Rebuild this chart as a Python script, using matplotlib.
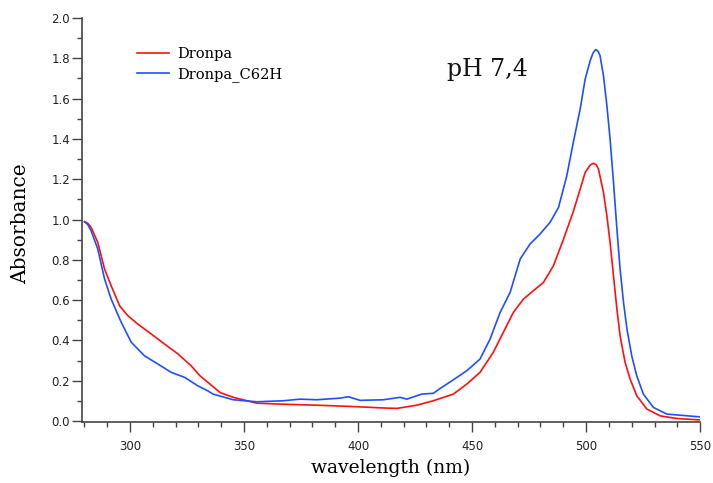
import numpy as np
from matplotlib import pyplot as plt
from matplotlib.ticker import MultipleLocator

# absorbance spectra
wl_dronpa = [280.1, 281.5, 283.0, 285.9, 288.9, 291.8, 295.5, 299.1, 303.5, 309.4, 315.2,
             321.1, 326.9, 330.7, 335.1, 339.5, 345.3, 355.6, 367.2, 381.9, 396.5,
             409.6, 417.0, 425.7, 433.0, 441.8, 447.7, 453.5, 459.3, 463.7, 468.1,
             472.5, 476.9, 481.3, 485.7, 490.1, 494.4, 497.4, 499.6, 501.8, 503.2,
             504.4, 505.4, 507.6, 509.1, 510.5, 512.0, 513.5, 514.9, 517.1, 519.3, 522.2,
             526.6, 532.5, 539.8, 550.0]
abs_dronpa = [0.989, 0.982, 0.961, 0.887, 0.754, 0.671, 0.572, 0.523, 0.481, 0.432, 0.382,
              0.333, 0.274, 0.225, 0.184, 0.142, 0.118, 0.089, 0.084, 0.079, 0.073,
              0.066, 0.063, 0.079, 0.101, 0.134, 0.184, 0.242, 0.341, 0.440, 0.539,
              0.605, 0.647, 0.688, 0.771, 0.903, 1.040, 1.151, 1.234, 1.270, 1.279,
              1.272, 1.251, 1.135, 1.019, 0.887, 0.721, 0.556, 0.423, 0.291, 0.208, 0.126,
              0.060, 0.026, 0.013, 0.006]

wl_c62h = [280.1, 281.5, 283.0, 285.9, 288.9, 291.8, 296.2, 300.6, 306.4, 312.3, 318.1,
           324.0, 329.8, 334.2, 336.5, 345.3, 355.6, 367.2, 374.6, 381.9, 392.1,
           395.8, 400.9, 411.1, 418.4, 421.4, 427.9, 433.0, 436.0, 441.8, 447.7,
           453.5, 457.9, 462.3, 466.7, 471.1, 475.4, 479.8, 484.2, 487.9, 491.5,
           494.4, 497.4, 499.6, 501.8, 503.0, 504.2, 505.2, 506.1, 507.6, 509.1, 510.5, 512.0,
           513.5, 514.9, 516.4, 517.9, 520.0, 522.2, 525.1, 529.5, 535.4, 550.0]
abs_c62h = [0.989, 0.975, 0.944, 0.854, 0.705, 0.605, 0.490, 0.391, 0.324, 0.283, 0.242,
            0.217, 0.175, 0.150, 0.134, 0.106, 0.096, 0.101, 0.109, 0.106, 0.114,
            0.121, 0.103, 0.106, 0.118, 0.109, 0.134, 0.138, 0.162, 0.205, 0.250,
            0.308, 0.407, 0.539, 0.639, 0.804, 0.878, 0.928, 0.986, 1.060, 1.215,
            1.383, 1.548, 1.697, 1.788, 1.825, 1.843, 1.835, 1.813, 1.714, 1.565, 1.400, 1.185,
            0.953, 0.754, 0.589, 0.457, 0.324, 0.225, 0.134, 0.068, 0.035, 0.021]

labels = ['Dronpa', 'Dronpa_C62H']

fig = plt.figure(figsize=(7.13, 4.83), dpi=100)
ax = fig.add_axes([0.115, 0.126, 0.867, 0.837])

ax.plot(wl_dronpa, abs_dronpa, color='#ff1010', lw=1.2, label=labels[0])
ax.plot(wl_c62h, abs_c62h, color='#1f50ff', lw=1.2, label=labels[1])

ax.set_xlim(279, 550)
ax.set_ylim(-0.005, 2.0)
ax.xaxis.set_major_locator(MultipleLocator(50))
ax.xaxis.set_minor_locator(MultipleLocator(10))
ax.yaxis.set_major_locator(MultipleLocator(0.2))
ax.yaxis.set_minor_locator(MultipleLocator(0.1))
ax.yaxis.set_major_formatter(plt.FormatStrFormatter('%.1f'))

for side in ['top', 'right']:
    ax.spines[side].set_visible(False)
for side in ['left', 'bottom']:
    ax.spines[side].set_color('#444444')
    ax.spines[side].set_linewidth(1.2)

ax.tick_params(axis='both', which='both', direction='out', color='#444444',
               width=1.0, labelsize=8.5, labelcolor='#222222')
ax.tick_params(axis='y', which='major', length=7, pad=1.5)
ax.tick_params(axis='y', which='minor', length=3.5)
ax.tick_params(axis='x', which='major', length=7, pad=6)
ax.tick_params(axis='x', which='minor', length=3.5)

serif = 'DejaVu Serif'
ax.set_xlabel('wavelength (nm)', family=serif, fontsize=13.5, labelpad=4)
ax.set_ylabel('Absorbance', family=serif, fontsize=14.5)
ax.yaxis.set_label_coords(-0.084, 0.49)

ax.text(439, 1.712, 'pH 7,4', family=serif, fontsize=17, color='#111111',
        va='baseline')

leg = ax.legend(loc='upper left', bbox_to_anchor=(0.079, 0.942), frameon=False,
                prop={'family': serif, 'size': 10.5}, handlelength=2.2,
                handletextpad=0.55, labelspacing=0.4, borderaxespad=0)

fig.savefig('out.png', dpi=100)
